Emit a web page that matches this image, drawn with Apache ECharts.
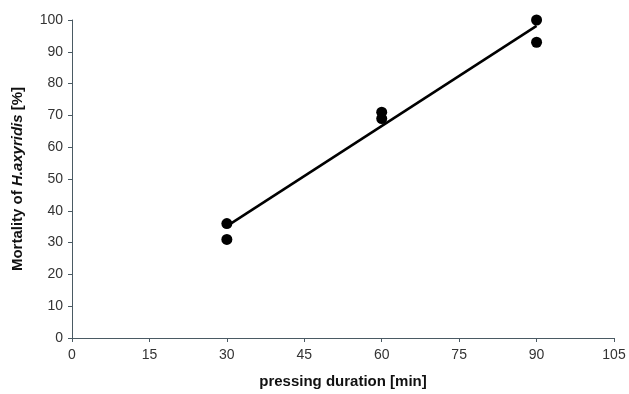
<!DOCTYPE html>
<html>
<head>
<meta charset="utf-8">
<script src="https://cdn.jsdelivr.net/npm/echarts@6/dist/echarts.min.js"></script>
<style>
  html, body { margin: 0; padding: 0; background: #fff; }
  #chart { width: 629px; height: 394px; }
</style>
</head>
<body>
<div id="chart"></div>
<script>
// Pressing duration (min) and observed mortality (%)
const durations = [30, 30, 60, 60, 90, 90];
const mortality = [36, 31, 71, 69, 100, 93];

// Axis ranges
const xTicks = [0, 15, 30, 45, 60, 75, 90, 105];
const yTicks = [0, 10, 20, 30, 40, 50, 60, 70, 80, 90, 100];

// Least-squares linear trend over the observed duration range
function linearFit(xs, ys) {
  const n = xs.length;
  const mx = xs.reduce((a, b) => a + b, 0) / n;
  const my = ys.reduce((a, b) => a + b, 0) / n;
  let sxy = 0, sxx = 0;
  for (let i = 0; i < n; i++) {
    sxy += (xs[i] - mx) * (ys[i] - my);
    sxx += (xs[i] - mx) * (xs[i] - mx);
  }
  const slope = sxy / sxx;
  return { slope, intercept: my - slope * mx };
}
const fit = linearFit(durations, mortality);
const xMin = Math.min(...durations), xMax = Math.max(...durations);
const trend = [xMin, xMax].map(x => [x, fit.intercept + fit.slope * x]);

const points = durations.map((d, i) => [d, mortality[i]]);

const chart = echarts.init(document.getElementById('chart'));
const axisColor = '#4a5a63';
const fontFamily = 'Liberation Sans, Arial, sans-serif';
const labelFont = { color: '#333', fontSize: 14, fontFamily };
const nameFont = { fontWeight: 'bold', fontSize: 15, color: '#111', fontFamily };

chart.setOption({
  animation: false,
  backgroundColor: '#fff',
  grid: { left: 72, right: 15, top: 20, bottom: 56, outerBoundsMode: 'none' },
  xAxis: {
    type: 'value',
    min: xTicks[0],
    max: xTicks[xTicks.length - 1],
    interval: xTicks[1] - xTicks[0],
    name: 'pressing duration [min]',
    nameLocation: 'middle',
    nameGap: 36,
    nameTextStyle: nameFont,
    axisLine: { show: true, onZero: false, lineStyle: { color: axisColor, width: 1 } },
    axisTick: { show: true, inside: false, length: 4, lineStyle: { color: axisColor } },
    axisLabel: Object.assign({ margin: 10 }, labelFont),
    splitLine: { show: false }
  },
  yAxis: {
    type: 'value',
    min: yTicks[0],
    max: yTicks[yTicks.length - 1],
    interval: yTicks[1] - yTicks[0],
    name: 'Mortality of {i|H.axyridis} [%]',
    nameLocation: 'middle',
    nameGap: 47,
    nameRotate: 90,
    nameTextStyle: Object.assign({}, nameFont, {
      rich: { i: Object.assign({}, nameFont, { fontStyle: 'italic' }) }
    }),
    axisLine: { show: true, lineStyle: { color: axisColor, width: 1 } },
    axisTick: { show: true, inside: false, length: 4, lineStyle: { color: axisColor } },
    axisLabel: Object.assign({ margin: 9 }, labelFont),
    splitLine: { show: false }
  },
  series: [
    {
      type: 'line',
      data: trend,
      symbol: 'none',
      lineStyle: { color: '#000', width: 2.5 },
      z: 2
    },
    {
      type: 'scatter',
      data: points,
      symbol: 'circle',
      symbolSize: 11,
      itemStyle: { color: '#000', opacity: 1 },
      z: 3
    }
  ]
});
</script>
</body>
</html>
